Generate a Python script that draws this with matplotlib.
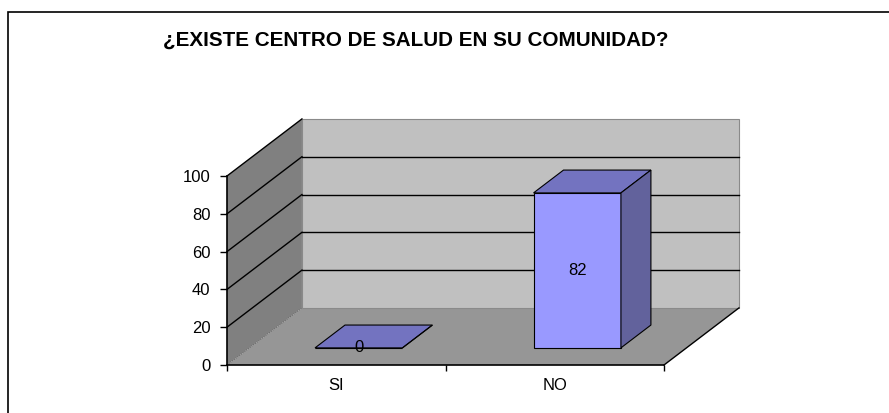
import matplotlib.pyplot as plt
from matplotlib.patches import Polygon, Rectangle

plt.rcParams['font.family'] = ['Liberation Sans', 'DejaVu Sans']

categories = ['SI', 'NO']
values = [0, 82]
y_ticks = [0, 20, 40, 60, 80, 100]
title = '¿EXISTE CENTRO DE SALUD EN SU COMUNIDAD?'

# 3d look: depth offset of the back wall, in data units
DX = 0.343
DY = 30.2
ymax = 100

fig = plt.figure(figsize=(8.89, 4.13), dpi=100)
fig.patches.append(Rectangle((8 / 889, -0.1), 1.1, (413 - 12) / 413 + 0.1,
                             transform=fig.transFigure, fill=False,
                             edgecolor='black', linewidth=1.2))
fig.text(416 / 889, 1 - 40 / 413, title, ha='center', va='center',
         fontsize=14.9, fontweight='bold')

ax = fig.add_axes([227 / 889, 48 / 413, 437 / 889, 189 / 413])
n = len(categories)
ax.set_xlim(0, n)
ax.set_ylim(0, ymax)
for s in ['top', 'right']:
    ax.spines[s].set_visible(False)
ax.patch.set_visible(False)

# walls and floor
floor = Polygon([(0, 0), (n, 0), (n + DX, DY), (DX, DY)], closed=True,
                facecolor='#969696', edgecolor='none', clip_on=False, zorder=0)
left_wall = Polygon([(0, 0), (0, ymax), (DX, ymax + DY), (DX, DY)], closed=True,
                    facecolor='#808080', edgecolor='none', clip_on=False, zorder=0)
back_wall = Polygon([(DX, DY), (n + DX, DY), (n + DX, ymax + DY), (DX, ymax + DY)],
                    closed=True, facecolor='#c0c0c0', edgecolor='#8a8a8a',
                    linewidth=0.8, clip_on=False, zorder=0)
for p in [floor, left_wall, back_wall]:
    ax.add_patch(p)
ax.plot([n, n + DX], [0, DY], color='black', lw=1, clip_on=False, zorder=1)
ax.plot([0, DX], [0, DY], color='#555555', lw=0.6, ls=':', clip_on=False, zorder=1)

for t in y_ticks[1:]:
    ax.plot([0, DX], [t, t + DY], color='black', lw=1, clip_on=False, zorder=1)
    if t < ymax:
        ax.plot([DX, n + DX], [t + DY, t + DY], color='black', lw=1,
                clip_on=False, zorder=1)

# bars
bw = 0.4
d0, d1 = 0.3, 0.7
for i, (c, v) in enumerate(zip(categories, values)):
    x0 = i + 0.5 - bw / 2 + d0 * DX
    x1 = x0 + bw
    y0 = d0 * DY
    ddx = (d1 - d0) * DX
    ddy = (d1 - d0) * DY
    front = Polygon([(x0, y0), (x1, y0), (x1, y0 + v), (x0, y0 + v)], closed=True,
                    facecolor='#9999ff', edgecolor='black', lw=0.8,
                    clip_on=False, zorder=3)
    top = Polygon([(x0, y0 + v), (x1, y0 + v), (x1 + ddx, y0 + v + ddy),
                   (x0 + ddx, y0 + v + ddy)], closed=True,
                  facecolor='#7373c0', edgecolor='black', lw=0.8,
                  clip_on=False, zorder=3)
    side = Polygon([(x1, y0), (x1 + ddx, y0 + ddy), (x1 + ddx, y0 + v + ddy),
                    (x1, y0 + v)], closed=True,
                   facecolor='#62629c', edgecolor='black', lw=0.8,
                   clip_on=False, zorder=3)
    for p in [front, top, side]:
        ax.add_patch(p)
    ax.text((x0 + x1) / 2, y0 + v / 2, str(v), ha='center', va='center',
            fontsize=12, zorder=4)

ax.set_yticks(y_ticks)
ax.tick_params(axis='y', direction='out', length=5, width=1, labelsize=12, pad=7)
ax.set_xticks(range(n + 1))
ax.set_xticklabels([])
ax.set_xticks([i + 0.5 for i in range(n)], minor=True)
ax.set_xticklabels(categories, minor=True)
ax.tick_params(axis='x', which='major', direction='out', length=4, width=1)
ax.tick_params(axis='x', which='minor', length=0, labelsize=12, pad=9)
ax.spines['left'].set_linewidth(1.2)
ax.spines['bottom'].set_linewidth(1.2)
ax.spines['left'].set_zorder(2)
ax.spines['bottom'].set_zorder(2)

fig.savefig('out.png', dpi=100)
